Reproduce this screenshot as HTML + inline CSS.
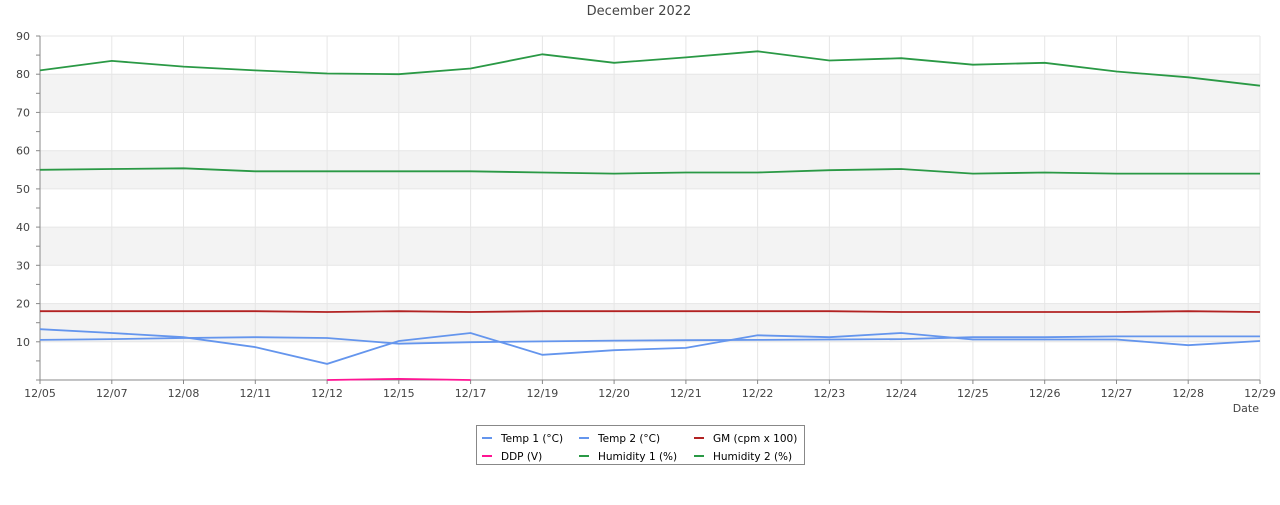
<!DOCTYPE html>
<html><head><meta charset="utf-8"><style>
body{margin:0;background:#fff;}
svg text{font-family:"DejaVu Sans","Liberation Sans",sans-serif;fill:#444;font-size:11px;}
</style></head><body>
<svg width="1280" height="500" xmlns="http://www.w3.org/2000/svg">
<text x="639" y="15" font-size="13" style="font-size:13px" text-anchor="middle">December 2022</text>
<rect x="40" y="303.6" width="1220" height="38.2" fill="#f3f3f3"/>
<rect x="40" y="227.1" width="1220" height="38.2" fill="#f3f3f3"/>
<rect x="40" y="150.7" width="1220" height="38.2" fill="#f3f3f3"/>
<rect x="40" y="74.2" width="1220" height="38.2" fill="#f3f3f3"/>
<g stroke="#e6e6e6">
<line x1="40" x2="1260" y1="341.8" y2="341.8"/><line x1="40" x2="1260" y1="303.6" y2="303.6"/><line x1="40" x2="1260" y1="265.3" y2="265.3"/><line x1="40" x2="1260" y1="227.1" y2="227.1"/><line x1="40" x2="1260" y1="188.9" y2="188.9"/><line x1="40" x2="1260" y1="150.7" y2="150.7"/><line x1="40" x2="1260" y1="112.4" y2="112.4"/><line x1="40" x2="1260" y1="74.2" y2="74.2"/><line x1="40" x2="1260" y1="36" y2="36"/>
<line x1="111.8" x2="111.8" y1="36" y2="380"/><line x1="183.5" x2="183.5" y1="36" y2="380"/><line x1="255.3" x2="255.3" y1="36" y2="380"/><line x1="327.1" x2="327.1" y1="36" y2="380"/><line x1="398.8" x2="398.8" y1="36" y2="380"/><line x1="470.6" x2="470.6" y1="36" y2="380"/><line x1="542.4" x2="542.4" y1="36" y2="380"/><line x1="614.1" x2="614.1" y1="36" y2="380"/><line x1="685.9" x2="685.9" y1="36" y2="380"/><line x1="757.6" x2="757.6" y1="36" y2="380"/><line x1="829.4" x2="829.4" y1="36" y2="380"/><line x1="901.2" x2="901.2" y1="36" y2="380"/><line x1="972.9" x2="972.9" y1="36" y2="380"/><line x1="1044.7" x2="1044.7" y1="36" y2="380"/><line x1="1116.5" x2="1116.5" y1="36" y2="380"/><line x1="1188.2" x2="1188.2" y1="36" y2="380"/><line x1="1260" x2="1260" y1="36" y2="380"/>
</g>
<g stroke="#888">
<line x1="36" x2="40" y1="380" y2="380"/><line x1="36" x2="40" y1="360.9" y2="360.9"/><line x1="36" x2="40" y1="341.8" y2="341.8"/><line x1="36" x2="40" y1="322.7" y2="322.7"/><line x1="36" x2="40" y1="303.6" y2="303.6"/><line x1="36" x2="40" y1="284.4" y2="284.4"/><line x1="36" x2="40" y1="265.3" y2="265.3"/><line x1="36" x2="40" y1="246.2" y2="246.2"/><line x1="36" x2="40" y1="227.1" y2="227.1"/><line x1="36" x2="40" y1="208" y2="208"/><line x1="36" x2="40" y1="188.9" y2="188.9"/><line x1="36" x2="40" y1="169.8" y2="169.8"/><line x1="36" x2="40" y1="150.7" y2="150.7"/><line x1="36" x2="40" y1="131.6" y2="131.6"/><line x1="36" x2="40" y1="112.4" y2="112.4"/><line x1="36" x2="40" y1="93.3" y2="93.3"/><line x1="36" x2="40" y1="74.2" y2="74.2"/><line x1="36" x2="40" y1="55.1" y2="55.1"/><line x1="36" x2="40" y1="36" y2="36"/>
<line x1="40" x2="40" y1="380" y2="384"/><line x1="111.8" x2="111.8" y1="380" y2="384"/><line x1="183.5" x2="183.5" y1="380" y2="384"/><line x1="255.3" x2="255.3" y1="380" y2="384"/><line x1="327.1" x2="327.1" y1="380" y2="384"/><line x1="398.8" x2="398.8" y1="380" y2="384"/><line x1="470.6" x2="470.6" y1="380" y2="384"/><line x1="542.4" x2="542.4" y1="380" y2="384"/><line x1="614.1" x2="614.1" y1="380" y2="384"/><line x1="685.9" x2="685.9" y1="380" y2="384"/><line x1="757.6" x2="757.6" y1="380" y2="384"/><line x1="829.4" x2="829.4" y1="380" y2="384"/><line x1="901.2" x2="901.2" y1="380" y2="384"/><line x1="972.9" x2="972.9" y1="380" y2="384"/><line x1="1044.7" x2="1044.7" y1="380" y2="384"/><line x1="1116.5" x2="1116.5" y1="380" y2="384"/><line x1="1188.2" x2="1188.2" y1="380" y2="384"/><line x1="1260" x2="1260" y1="380" y2="384"/>
<line x1="40" x2="40" y1="36" y2="380"/><line x1="40" x2="1260" y1="380" y2="380"/>
</g>
<g text-anchor="end">
<text x="30" y="345.8">10</text><text x="30" y="307.6">20</text><text x="30" y="269.3">30</text><text x="30" y="231.1">40</text><text x="30" y="192.9">50</text><text x="30" y="154.7">60</text><text x="30" y="116.4">70</text><text x="30" y="78.2">80</text><text x="30" y="40">90</text>
</g>
<g text-anchor="middle">
<text x="40" y="397">12/05</text><text x="111.8" y="397">12/07</text><text x="183.5" y="397">12/08</text><text x="255.3" y="397">12/11</text><text x="327.1" y="397">12/12</text><text x="398.8" y="397">12/15</text><text x="470.6" y="397">12/17</text><text x="542.4" y="397">12/19</text><text x="614.1" y="397">12/20</text><text x="685.9" y="397">12/21</text><text x="757.6" y="397">12/22</text><text x="829.4" y="397">12/23</text><text x="901.2" y="397">12/24</text><text x="972.9" y="397">12/25</text><text x="1044.7" y="397">12/26</text><text x="1116.5" y="397">12/27</text><text x="1188.2" y="397">12/28</text><text x="1260" y="397">12/29</text>
</g>
<text x="1259" y="412" text-anchor="end">Date</text>
<g fill="none" stroke-width="1.8">
<polyline stroke="#2a9945" points="40,70.4 111.8,60.9 183.5,66.6 255.3,70.4 327.1,73.5 398.8,74.2 470.6,68.5 542.4,54.3 614.1,62.8 685.9,57.4 757.6,51.3 829.4,60.5 901.2,58.2 972.9,64.7 1044.7,62.8 1116.5,71.5 1188.2,77.3 1260,85.7"/>
<polyline stroke="#2a9945" points="40,169.8 111.8,169 183.5,168.3 255.3,171.3 327.1,171.3 398.8,171.3 470.6,171.3 542.4,172.5 614.1,173.6 685.9,172.5 757.6,172.5 829.4,170.2 901.2,169 972.9,173.6 1044.7,172.5 1116.5,173.6 1188.2,173.6 1260,173.6"/>
<polyline stroke="#b22222" points="40,311.2 111.8,311.2 183.5,311.2 255.3,311.2 327.1,312 398.8,311.2 470.6,312 542.4,311.2 614.1,311.2 685.9,311.2 757.6,311.2 829.4,311.2 901.2,312 972.9,312 1044.7,312 1116.5,312 1188.2,311.2 1260,312"/>
<polyline stroke="#6495ed" points="40,329.2 111.8,333 183.5,337.2 255.3,347.1 327.1,363.9 398.8,341 470.6,333 542.4,354.8 614.1,350.2 685.9,347.9 757.6,335.3 829.4,337.2 901.2,333 972.9,339.5 1044.7,339.5 1116.5,339.5 1188.2,345.2 1260,341"/>
<polyline stroke="#6495ed" points="40,339.9 111.8,339.1 183.5,338 255.3,337.2 327.1,338 398.8,343.7 470.6,342.2 542.4,341.4 614.1,340.6 685.9,340.2 757.6,339.9 829.4,339.5 901.2,339.1 972.9,337.2 1044.7,337.2 1116.5,336.4 1188.2,336.4 1260,336.4"/>
<polyline stroke="#ff1493" points="327.1,380 398.8,378.9 470.6,380"/>
</g>
<rect x="476.5" y="425.5" width="328" height="39" fill="#fff" stroke="#888"/>
<g stroke-width="2">
<line x1="482" x2="492" y1="438" y2="438" stroke="#6495ed"/><line x1="579" x2="589" y1="438" y2="438" stroke="#6495ed"/><line x1="694" x2="704" y1="438" y2="438" stroke="#b22222"/>
<line x1="482" x2="492" y1="456" y2="456" stroke="#ff1493"/><line x1="579" x2="589" y1="456" y2="456" stroke="#2a9945"/><line x1="694" x2="704" y1="456" y2="456" stroke="#2a9945"/>
</g>
<g style="font-size:10.5px">
<text x="501" y="442" style="fill:#000;font-size:10.5px">Temp 1 (°C)</text><text x="598" y="442" style="fill:#000;font-size:10.5px">Temp 2 (°C)</text><text x="713" y="442" style="fill:#000;font-size:10.5px">GM (cpm x 100)</text>
<text x="501" y="460" style="fill:#000;font-size:10.5px">DDP (V)</text><text x="598" y="460" style="fill:#000;font-size:10.5px">Humidity 1 (%)</text><text x="713" y="460" style="fill:#000;font-size:10.5px">Humidity 2 (%)</text>
</g>
</svg>
</body></html>
